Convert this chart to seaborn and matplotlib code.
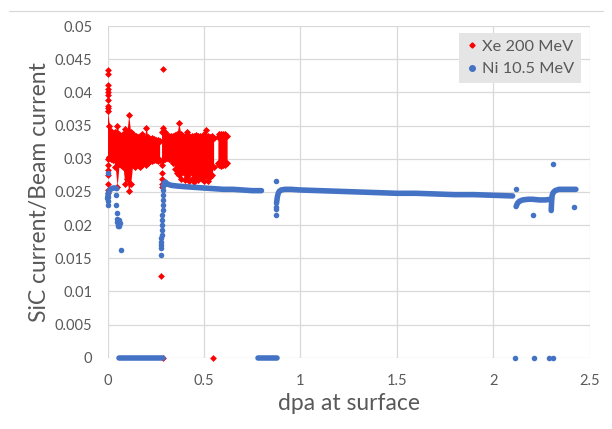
import matplotlib
matplotlib.use("Agg")
import matplotlib.pyplot as plt
from matplotlib.lines import Line2D
import seaborn as sns

RED = "#ff0000"
BLUE = "#4472c4"
GREY = "#595959"
GRID = "#d9d9d9"

# ---- Xe 200 MeV: dense cloud read as upper / lower edges (three runs) ----
xe_run1_x = [0.00, 0.01, 0.02, 0.03, 0.04, 0.05, 0.06, 0.07, 0.08, 0.09, 0.10, 0.11, 0.12, 0.13,
             0.14, 0.15, 0.16, 0.17, 0.18, 0.19, 0.20, 0.21, 0.22, 0.23, 0.24, 0.25, 0.26, 0.27]
xe_run1_hi = [0.0372, 0.0350, 0.0342, 0.0338, 0.0341, 0.0350, 0.0338, 0.0335, 0.0337, 0.0345, 0.0340, 0.0366, 0.0340, 0.0338,
              0.0334, 0.0335, 0.0333, 0.0334, 0.0338, 0.0332, 0.0346, 0.0333, 0.0330, 0.0332, 0.0330, 0.0328, 0.0329, 0.0327]
xe_run1_lo = [0.0300, 0.0302, 0.0300, 0.0298, 0.0288, 0.0258, 0.0292, 0.0290, 0.0288, 0.0262, 0.0270, 0.0251, 0.0262, 0.0290,
              0.0288, 0.0292, 0.0290, 0.0287, 0.0290, 0.0293, 0.0291, 0.0294, 0.0296, 0.0297, 0.0298, 0.0298, 0.0297, 0.0298]

xe_run2_x = [0.28, 0.29, 0.30, 0.31, 0.32, 0.33, 0.34, 0.35, 0.36, 0.37, 0.38, 0.39, 0.40, 0.41,
             0.42, 0.43, 0.44, 0.45, 0.46, 0.47, 0.48, 0.49, 0.50, 0.51, 0.52, 0.53, 0.54, 0.55]
xe_run2_hi = [0.0340, 0.0346, 0.0340, 0.0336, 0.0335, 0.0334, 0.0335, 0.0336, 0.0338, 0.0354, 0.0338, 0.0334, 0.0335, 0.0340,
              0.0334, 0.0333, 0.0335, 0.0334, 0.0336, 0.0334, 0.0335, 0.0333, 0.0337, 0.0344, 0.0334, 0.0333, 0.0335, 0.0332]
xe_run2_lo = [0.0290, 0.0298, 0.0300, 0.0301, 0.0300, 0.0298, 0.0294, 0.0285, 0.0278, 0.0275, 0.0270, 0.0280, 0.0268, 0.0272,
              0.0266, 0.0278, 0.0270, 0.0265, 0.0272, 0.0268, 0.0276, 0.0270, 0.0267, 0.0274, 0.0266, 0.0272, 0.0276, 0.0288]

xe_run3_x = [0.572, 0.58, 0.59, 0.60, 0.61, 0.62]
xe_run3_hi = [0.0333, 0.0337, 0.0338, 0.0338, 0.0337, 0.0334]
xe_run3_lo = [0.0293, 0.0290, 0.0289, 0.0290, 0.0291, 0.0294]

# Xe isolated points
xe_pts_x = [0.0, 0.0, 0.0, 0.0, 0.0, 0.0, 0.0, 0.0, 0.002,
            0.0, 0.0, 0.0, 0.0, 0.0, 0.0,
            0.28, 0.28, 0.28, 0.28, 0.275, 0.289, 0.289, 0.548]
xe_pts_y = [0.0434, 0.0428, 0.0412, 0.0405, 0.0400, 0.0396, 0.0388, 0.0380, 0.0376,
            0.0290, 0.0283, 0.0275, 0.0262, 0.0253, 0.0248,
            0.0278, 0.0270, 0.0262, 0.0257, 0.0123, 0.0436, 0.0, 0.0]

# ---- Ni 10.5 MeV: continuous traces ----
ni_seg_a_x = [0.0, 0.005, 0.012, 0.02, 0.03, 0.04, 0.048]
ni_seg_a_y = [0.0240, 0.0249, 0.0253, 0.0255, 0.0256, 0.0256, 0.0255]

ni_seg_b_x = [0.290, 0.295, 0.300, 0.31, 0.33, 0.36, 0.40, 0.45, 0.50, 0.55, 0.60, 0.65, 0.70, 0.75, 0.798]
ni_seg_b_y = [0.0258, 0.0264, 0.0265, 0.0262, 0.0260, 0.0259, 0.0258, 0.0257, 0.0256, 0.0255, 0.0254, 0.0254,
              0.0253, 0.0252, 0.0252]

ni_seg_c_x = [0.876, 0.880, 0.885, 0.89, 0.90, 0.92, 0.95, 1.0, 1.1, 1.2, 1.3, 1.4, 1.5, 1.6, 1.7, 1.8, 1.9, 2.0, 2.1]
ni_seg_c_y = [0.0233, 0.0242, 0.0248, 0.0251, 0.0253, 0.0254, 0.0254, 0.0253, 0.0252, 0.0251, 0.0250, 0.0249,
              0.0248, 0.0248, 0.0247, 0.0246, 0.0246, 0.0245, 0.0244]

ni_seg_d_x = [2.118, 2.125, 2.135, 2.152, 2.18, 2.204, 2.239, 2.27, 2.297]
ni_seg_d_y = [0.0228, 0.0233, 0.0236, 0.0238, 0.0239, 0.0239, 0.0238, 0.0238, 0.0239]

ni_seg_e_x = [2.300, 2.302, 2.305, 2.31, 2.32, 2.34, 2.37, 2.40, 2.428]
ni_seg_e_y = [0.0222, 0.0235, 0.0245, 0.0249, 0.0252, 0.0254, 0.0254, 0.0254, 0.0254]

# runs of zero readings
ni_zero1_x = [0.062, 0.287]
ni_zero2_x = [0.782, 0.877]

# Ni isolated points
ni_pts_x = [0.0, 0.0, 0.0, 0.0,
            0.045, 0.045, 0.047, 0.048, 0.050, 0.055, 0.060, 0.063, 0.058, 0.052, 0.068,
            0.277, 0.277, 0.278, 0.278, 0.279, 0.280, 0.281, 0.282, 0.283, 0.284, 0.285, 0.286,
            0.287, 0.288, 0.288, 0.289,
            0.871, 0.871, 0.871, 0.873,
            2.118, 2.204, 2.307, 2.42,
            2.113, 2.209, 2.29, 2.31]
ni_pts_y = [0.0279, 0.0243, 0.0236, 0.0230,
            0.0245, 0.0230, 0.0218, 0.0210, 0.0205, 0.0200, 0.0198, 0.0203, 0.0207, 0.0199, 0.0163,
            0.0155, 0.0165, 0.0170, 0.0175, 0.0180, 0.0185, 0.0193, 0.0200, 0.0208, 0.0215, 0.0223, 0.0230,
            0.0238, 0.0245, 0.0253, 0.0260,
            0.0266, 0.0216, 0.0224, 0.0228,
            0.0254, 0.0216, 0.0292, 0.0228,
            0.0, 0.0, 0.0, 0.0]

x_ticks = [0, 0.5, 1, 1.5, 2, 2.5]
x_tick_labels = ["0", "0.5", "1", "1.5", "2", "2.5"]
y_ticks = [0, 0.005, 0.01, 0.015, 0.02, 0.025, 0.03, 0.035, 0.04, 0.045, 0.05]
y_tick_labels = ["0", "0.005", "0.01", "0.015", "0.02", "0.025", "0.03", "0.035", "0.04", "0.045", "0.05"]

sns.set_theme(style="whitegrid")
plt.rcParams["font.family"] = ["Lato", "DejaVu Sans"]

fig = plt.figure(figsize=(6.12, 4.29), dpi=100)
ax = fig.add_axes([0.1757, 0.166, 0.788, 0.773])

# red cloud
for xs, lo, hi in [(xe_run1_x, xe_run1_lo, xe_run1_hi),
                   (xe_run2_x, xe_run2_lo, xe_run2_hi),
                   (xe_run3_x, xe_run3_lo, xe_run3_hi)]:
    ax.fill_between(xs, lo, hi, color=RED, linewidth=0)
    sns.scatterplot(x=xs, y=hi, ax=ax, color=RED, marker="D", s=13, linewidth=0)
    sns.scatterplot(x=xs, y=lo, ax=ax, color=RED, marker="D", s=13, linewidth=0)
sns.scatterplot(x=xe_pts_x, y=xe_pts_y, ax=ax, color=RED, marker="D", s=12, linewidth=0)

# blue traces
for xs, ys in [(ni_seg_a_x, ni_seg_a_y), (ni_seg_b_x, ni_seg_b_y), (ni_seg_c_x, ni_seg_c_y),
               (ni_seg_d_x, ni_seg_d_y), (ni_seg_e_x, ni_seg_e_y),
               (ni_zero1_x, [0, 0]), (ni_zero2_x, [0, 0])]:
    sns.lineplot(x=xs, y=ys, ax=ax, color=BLUE, linewidth=4.0, sort=False, estimator=None,
                 solid_capstyle="round")
sns.scatterplot(x=ni_pts_x, y=ni_pts_y, ax=ax, color=BLUE, marker="o", s=16, linewidth=0)

for art in ax.collections + ax.lines:
    art.set_clip_on(False)

ax.set_xlim(0, 2.5)
ax.set_ylim(0, 0.05)
ax.set_xticks(x_ticks)
ax.set_xticklabels(x_tick_labels)
ax.set_yticks(y_ticks)
ax.set_yticklabels(y_tick_labels)
ax.set_axisbelow(True)
ax.grid(True, color=GRID, linewidth=0.9)
for sp in ax.spines.values():
    sp.set_visible(False)
ax.tick_params(axis="both", length=0, labelsize=10.5, labelcolor=GREY)
ax.tick_params(axis="y", pad=11)
ax.tick_params(axis="x", pad=12)
ax.set_xlabel("dpa at surface", fontsize=16.5, color=GREY)
ax.set_ylabel("SiC current/Beam current", fontsize=16.5, color=GREY)
ax.xaxis.set_label_coords(0.5, -0.106)
ax.yaxis.set_label_coords(-0.12, 0.5)

handles = [Line2D([], [], marker="D", color=RED, linestyle="", markersize=2.6),
           Line2D([], [], marker="o", color=BLUE, linestyle="", markersize=4)]
leg = ax.legend(handles, ["Xe 200 MeV", "Ni 10.5 MeV"], loc="upper right",
                bbox_to_anchor=(0.982, 0.98), borderaxespad=0, fontsize=11.8, frameon=True,
                fancybox=False, handletextpad=0.3, handlelength=0.7, borderpad=0.4,
                labelspacing=0.5, labelcolor=GREY)
leg.get_frame().set_facecolor("#e5e5e5")
leg.get_frame().set_edgecolor("none")
leg.get_frame().set_alpha(1)

fig.add_artist(Line2D([0.015, 0.985], [1 - 11 / 429, 1 - 11 / 429], color=GRID, linewidth=0.9))

fig.savefig("out.png", dpi=100)
